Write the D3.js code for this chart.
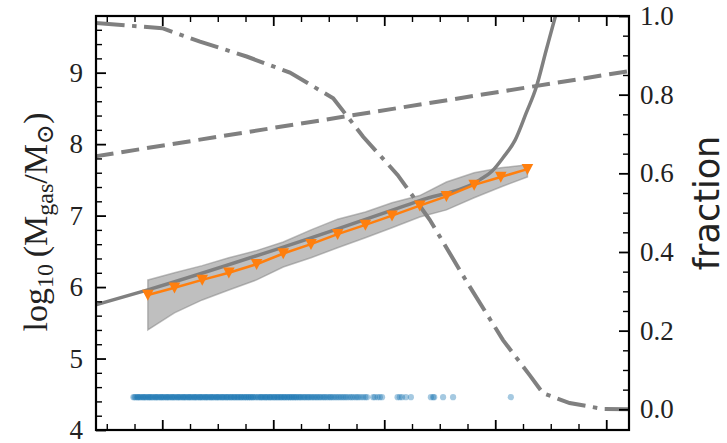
<!DOCTYPE html>
<html>
<head>
<meta charset="utf-8">
<script src="https://cdn.jsdelivr.net/npm/d3@7/dist/d3.min.js"></script>
<style>
  body { margin: 0; background: #fff; }
  svg { display: block; }
</style>
</head>
<body>
<svg id="chart" width="727" height="443"></svg>
<script>
// Stellar-mass bins (log10) with the median gas mass and its 16-84 band
const binMass   = [7.87, 8.11, 8.36, 8.60, 8.85, 9.09, 9.34, 9.58, 9.83, 10.07, 10.32, 10.56, 10.81, 11.05, 11.29];
const medianGas = [5.89, 5.99, 6.10, 6.20, 6.32, 6.47, 6.60, 6.74, 6.87, 7.00, 7.14, 7.27, 7.43, 7.54, 7.65];
const upperGas  = [6.10, 6.20, 6.30, 6.41, 6.51, 6.63, 6.80, 6.95, 7.05, 7.18, 7.28, 7.47, 7.60, 7.67, 7.71];
const lowerGas  = [5.40, 5.64, 5.82, 5.96, 6.10, 6.28, 6.41, 6.55, 6.69, 6.83, 6.98, 7.08, 7.25, 7.40, 7.54];

// Model relation (solid grey)
const modelMass = [7.40, 7.87, 9.09, 10.32, 10.86, 10.97, 11.07, 11.18, 11.28, 11.37, 11.46, 11.54, 11.57];
const modelGas  = [5.75, 5.96, 6.56, 7.21, 7.50, 7.62, 7.81, 8.06, 8.44, 8.80, 9.32, 9.78, 9.95];

// Reference scaling (dashed grey)
const refMass = [7.40, 12.20];
const refGas  = [7.83, 9.02];

// Fraction on the right-hand axis (dash-dot grey)
const fracMass  = [7.40, 8.00, 8.34, 8.76, 9.15, 9.54, 9.81, 10.12, 10.41, 10.75, 11.07, 11.31, 11.43, 11.67, 11.97, 12.20];
const fracValue = [0.982, 0.969, 0.935, 0.897, 0.856, 0.791, 0.693, 0.596, 0.482, 0.321, 0.176, 0.087, 0.041, 0.016, 0.001, 0.000];

// Individual objects shown as a strip along the bottom
const objMass = [
  7.74, 7.75, 7.76, 7.775, 7.78, 7.79, 7.80, 7.81, 7.825, 7.83, 7.84, 7.85, 7.86, 7.875, 7.88, 7.89,
  7.90, 7.91, 7.92, 7.935, 7.94, 7.95, 7.96, 7.97, 7.985, 7.99, 8.00, 8.01, 8.02, 8.035, 8.04, 8.05,
  8.06, 8.07, 8.085, 8.09, 8.10, 8.11, 8.12, 8.135, 8.14, 8.15, 8.16, 8.17, 8.185, 8.19, 8.20, 8.21,
  8.22, 8.235, 8.24, 8.25, 8.26, 8.27, 8.285, 8.29, 8.30, 8.31, 8.32, 8.335, 8.34, 8.35, 8.36, 8.37,
  8.385, 8.39, 8.40, 8.41, 8.42, 8.435, 8.44, 8.45, 8.46, 8.47, 8.485, 8.49, 8.50, 8.51, 8.52, 8.535,
  8.54, 8.55, 8.56, 8.575, 8.58, 8.59, 8.60, 8.615, 8.62, 8.63, 8.645, 8.65, 8.66, 8.675, 8.68, 8.69,
  8.705, 8.71, 8.72, 8.735, 8.74, 8.755, 8.76, 8.775, 8.78, 8.795, 8.80, 8.815, 8.82, 8.835, 8.845,
  8.86, 8.87, 8.885, 8.89, 8.90, 8.91, 8.925, 8.93, 8.94, 8.95, 8.965, 8.97, 8.98, 8.99, 9.005, 9.01,
  9.02, 9.035, 9.04, 9.05, 9.065, 9.07, 9.08, 9.095, 9.10, 9.11, 9.125, 9.13, 9.145, 9.15, 9.165,
  9.17, 9.185, 9.19, 9.205, 9.21, 9.225, 9.235, 9.245, 9.255, 9.27, 9.28, 9.29, 9.305, 9.315, 9.325,
  9.34, 9.35, 9.365, 9.375, 9.39, 9.40, 9.415, 9.425, 9.44, 9.455, 9.465, 9.48, 9.495, 9.51, 9.52,
  9.535, 9.55, 9.565, 9.58, 9.595, 9.61, 9.625, 9.64, 9.655, 9.67, 9.69, 9.705, 9.72, 9.74, 9.755,
  9.77, 9.79, 9.81, 9.83, 9.845, 9.90, 9.915, 9.94, 9.96, 9.98, 10.12, 10.14, 10.16, 10.195, 10.24,
  10.42, 10.44, 10.45, 10.53, 10.62, 11.14
];
const objGas = 4.46;

// Tick values
const xMajorTicks = [8, 9, 10, 11, 12];
const xMinorTicks = [7.5, 7.75, 8.25, 8.5, 8.75, 9.25, 9.5, 9.75, 10.25, 10.5, 10.75, 11.25, 11.5, 11.75];
const yMajorTicks = [4, 5, 6, 7, 8, 9];
const yMinorTicks = [4.2, 4.4, 4.6, 4.8, 5.2, 5.4, 5.6, 5.8, 6.2, 6.4, 6.6, 6.8, 7.2, 7.4, 7.6, 7.8, 8.2, 8.4, 8.6, 8.8, 9.2, 9.4, 9.6];
const fracMajorTicks = [0.0, 0.2, 0.4, 0.6, 0.8, 1.0];
const fracMinorTicks = [0.05, 0.1, 0.15, 0.25, 0.3, 0.35, 0.45, 0.5, 0.55, 0.65, 0.7, 0.75, 0.85, 0.9, 0.95];

const svg = d3.select("#chart");
const L = 96, R = 629, T = 16, B = 430;

const x  = d3.scaleLinear().domain([7.403, 12.205]).range([L, R]);
const y  = d3.scaleLinear().domain([4, 9.793]).range([B, T]);
const yR = d3.scaleLinear().domain([-0.0526, 1.0]).range([B, T]);

svg.append("defs").append("clipPath").attr("id", "plot-clip")
  .append("rect").attr("x", L).attr("y", T).attr("width", R - L).attr("height", B - T);

const plot = svg.append("g").attr("clip-path", "url(#plot-clip)");
const grey = "#808080";

// scatter band around the median
const band = d3.area()
  .x((d, i) => x(binMass[i]))
  .y0((d, i) => y(lowerGas[i]))
  .y1((d, i) => y(upperGas[i]))
  .curve(d3.curveLinear);
plot.append("path").datum(binMass).attr("d", band)
  .attr("fill", grey).attr("fill-opacity", 0.5)
  .attr("stroke", grey).attr("stroke-opacity", 0.5).attr("stroke-width", 1.5);

// individual objects
plot.append("g").selectAll("circle").data(objMass).join("circle")
  .attr("cx", d => x(d)).attr("cy", y(objGas)).attr("r", 3.1)
  .attr("fill", "#1f77b4").attr("fill-opacity", 0.4);

// dashed reference relation
plot.append("path")
  .datum(refMass.map((m, i) => [m, refGas[i]]))
  .attr("d", d3.line().x(d => x(d[0])).y(d => y(d[1])))
  .attr("fill", "none").attr("stroke", grey).attr("stroke-width", 4)
  .attr("stroke-dasharray", "18,8");

// solid model relation
plot.append("path")
  .datum(modelMass.map((m, i) => [m, modelGas[i]]))
  .attr("d", d3.line().x(d => x(d[0])).y(d => y(d[1])).curve(d3.curveMonotoneX))
  .attr("fill", "none").attr("stroke", grey).attr("stroke-width", 3.5);

// fraction (right axis)
plot.append("path")
  .datum(fracMass.map((m, i) => [m, fracValue[i]]))
  .attr("d", d3.line().x(d => x(d[0])).y(d => yR(d[1])))
  .attr("fill", "none").attr("stroke", grey).attr("stroke-width", 4)
  .attr("stroke-dasharray", "29,7.5,4.5,7.5");

// median with downward triangles
const orange = "#ff7f0e";
plot.append("path")
  .datum(binMass.map((m, i) => [m, medianGas[i]]))
  .attr("d", d3.line().x(d => x(d[0])).y(d => y(d[1])))
  .attr("fill", "none").attr("stroke", orange).attr("stroke-width", 2.5);
plot.append("g").selectAll("path").data(binMass).join("path")
  .attr("transform", (d, i) => `translate(${x(d)},${y(medianGas[i])})`)
  .attr("d", "M-5.8,-5.2 L5.8,-5.2 L0,5.8 Z")
  .attr("fill", orange);

// axes
const serif = "'Liberation Serif', 'DejaVu Serif', serif";
function styleAxis(g, major) {
  g.select(".domain").remove();
  g.selectAll(".tick line").attr("stroke", "#000").attr("stroke-width", major ? 1.8 : 1.4);
  g.selectAll("text").attr("font-family", serif).attr("font-size", 27).attr("fill", "#222");
}

svg.append("g").attr("transform", `translate(0,${B})`)
  .call(d3.axisBottom(x).tickValues(xMajorTicks).tickSizeInner(-10).tickSizeOuter(0).tickFormat(""))
  .call(g => styleAxis(g, true));
svg.append("g").attr("transform", `translate(0,${B})`)
  .call(d3.axisBottom(x).tickValues(xMinorTicks).tickSizeInner(-6).tickSizeOuter(0).tickFormat(""))
  .call(g => styleAxis(g, false));
svg.append("g").attr("transform", `translate(0,${T})`)
  .call(d3.axisTop(x).tickValues(xMajorTicks).tickSizeInner(-10).tickSizeOuter(0).tickFormat(""))
  .call(g => styleAxis(g, true));
svg.append("g").attr("transform", `translate(0,${T})`)
  .call(d3.axisTop(x).tickValues(xMinorTicks).tickSizeInner(-6).tickSizeOuter(0).tickFormat(""))
  .call(g => styleAxis(g, false));

svg.append("g").attr("transform", `translate(${L},0)`)
  .call(d3.axisLeft(y).tickValues(yMajorTicks).tickSizeInner(-10).tickSizeOuter(0).tickPadding(13).tickFormat(d3.format("d")))
  .call(g => styleAxis(g, true));
svg.append("g").attr("transform", `translate(${L},0)`)
  .call(d3.axisLeft(y).tickValues(yMinorTicks).tickSizeInner(-6).tickSizeOuter(0).tickFormat(""))
  .call(g => styleAxis(g, false));

svg.append("g").attr("transform", `translate(${R},0)`)
  .call(d3.axisRight(yR).tickValues(fracMajorTicks).tickSizeInner(-10).tickSizeOuter(0).tickPadding(11).tickFormat(d3.format(".1f")))
  .call(g => styleAxis(g, true));
svg.append("g").attr("transform", `translate(${R},0)`)
  .call(d3.axisRight(yR).tickValues(fracMinorTicks).tickSizeInner(-6).tickSizeOuter(0).tickFormat(""))
  .call(g => styleAxis(g, false));

// frame
svg.append("rect").attr("x", L).attr("y", T).attr("width", R - L).attr("height", B - T)
  .attr("fill", "none").attr("stroke", "#000").attr("stroke-width", 2.2);

// left axis label: log10 (M_gas / M_sun)
const yl = svg.append("text")
  .attr("transform", "translate(47,222) rotate(-90)")
  .attr("text-anchor", "middle")
  .attr("font-family", serif).attr("font-size", 34).attr("fill", "#222");
yl.append("tspan").text("log");
yl.append("tspan").attr("font-size", 24).attr("dy", 6).text("10");
yl.append("tspan").attr("dy", -6).text("\u2009(M");
yl.append("tspan").attr("font-size", 24).attr("dy", 6).text("gas");
yl.append("tspan").attr("dy", -6).text("/M");
yl.append("tspan").attr("font-size", 24).attr("dy", 6).text("\u2299");
yl.append("tspan").attr("dy", -6).text(")");

// right axis label
svg.append("text")
  .attr("transform", "translate(719,203) rotate(-90)")
  .attr("text-anchor", "middle")
  .attr("font-family", "'DejaVu Sans', sans-serif").attr("font-size", 35).attr("fill", "#222")
  .text("fraction");
</script>
</body>
</html>
